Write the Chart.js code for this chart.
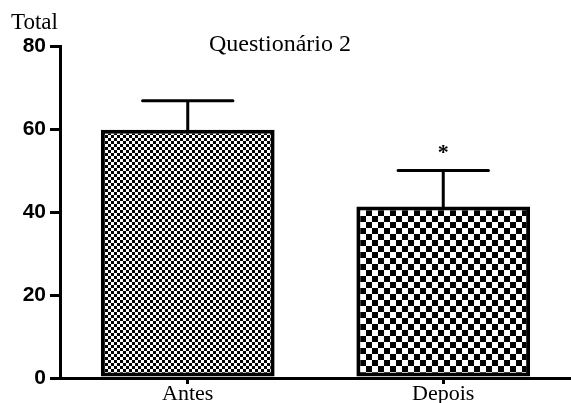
<!DOCTYPE html>
<html>
<head>
<meta charset="utf-8">
<script src="https://cdn.jsdelivr.net/npm/chart.js@4"></script>
<style>
  html, body { margin: 0; padding: 0; background: #fff; }
  #wrap { width: 571px; height: 403px; position: relative; }
</style>
</head>
<body>
<div id="wrap"><canvas id="quizChart" width="571" height="403"></canvas></div>
<script>
// values
const categories = ['Antes', 'Depois'];
const totals = [59.8, 41.3];
const errors = [7, 8.7];
const marks = ['', '*'];
const yTicks = [0, 20, 40, 60, 80];

// checkerboard fill, cell = size of one square
function checker(cell) {
    const c = document.createElement('canvas');
    c.width = cell * 2;
    c.height = cell * 2;
    const g = c.getContext('2d');
    g.fillStyle = '#fff';
    g.fillRect(0, 0, c.width, c.height);
    g.fillStyle = '#000';
    g.fillRect(0, 0, cell, cell);
    g.fillRect(cell, cell, cell, cell);
    return g.createPattern(c, 'repeat');
}

const ctx = document.getElementById('quizChart').getContext('2d');
const fills = [checker(3), checker(6)];

// upper error bars + significance mark
const errorBars = {
    id: 'errorBars',
    afterDatasetsDraw(chart) {
        const c = chart.ctx;
        const y = chart.scales.y;
        const meta = chart.getDatasetMeta(0);
        c.save();
        c.strokeStyle = '#000';
        c.lineWidth = 3;
        c.lineCap = 'round';
        meta.data.forEach((bar, i) => {
            const top = y.getPixelForValue(totals[i] + errors[i]);
            const half = bar.width * 0.26;
            c.beginPath();
            c.moveTo(bar.x, bar.y);
            c.lineTo(bar.x, top);
            c.moveTo(bar.x - half, top);
            c.lineTo(bar.x + half, top);
            c.stroke();
            if (marks[i]) {
                c.fillStyle = '#000';
                c.font = 'bold 22px "Liberation Serif"';
                c.textAlign = 'center';
                c.textBaseline = 'middle';
                c.fillText(marks[i], bar.x, top - 17);
            }
        });
        c.restore();
    }
};

// title inside the plot and the "Total" axis caption
const labels = {
    id: 'labels',
    afterDraw(chart) {
        const c = chart.ctx;
        c.save();
        c.fillStyle = '#000';
        c.textBaseline = 'alphabetic';
        c.font = '24px "Liberation Serif"';
        c.textAlign = 'center';
        c.fillText('Questionário 2', 280, 51);
        c.font = '23px "Liberation Serif"';
        c.textAlign = 'left';
        c.fillText('Total', 11, 29);
        c.restore();
    }
};

new Chart(ctx, {
    type: 'bar',
    data: {
        labels: categories,
        datasets: [{
            data: totals,
            backgroundColor: fills,
            borderColor: '#000',
            borderWidth: 4,
            borderSkipped: false,
            categoryPercentage: 1,
            barPercentage: 0.68
        }]
    },
    options: {
        responsive: false,
        animation: false,
        layout: { padding: { top: 46, right: 0, left: 0, bottom: 0 } },
        plugins: {
            legend: { display: false },
            tooltip: { enabled: false }
        },
        scales: {
            x: {
                afterFit: s => { s.height = 25; },
                border: { color: '#000', width: 3 },
                grid: {
                    offset: false,
                    drawOnChartArea: false,
                    color: '#000',
                    lineWidth: 3,
                    tickLength: 6
                },
                ticks: {
                    color: '#000',
                    padding: -3,
                    font: { family: 'Liberation Serif', size: 22 }
                }
            },
            y: {
                min: 0,
                max: 80,
                afterFit: s => { s.width = 60; },
                afterBuildTicks: s => { s.ticks = yTicks.map(v => ({ value: v })); },
                border: { color: '#000', width: 3 },
                grid: {
                    drawOnChartArea: false,
                    color: '#000',
                    lineWidth: 3,
                    tickLength: 10
                },
                ticks: {
                    color: '#000',
                    padding: 4,
                    font: { family: 'Liberation Sans', size: 21, weight: 'bold' }
                }
            }
        }
    },
    plugins: [errorBars, labels]
});
</script>
</body>
</html>
